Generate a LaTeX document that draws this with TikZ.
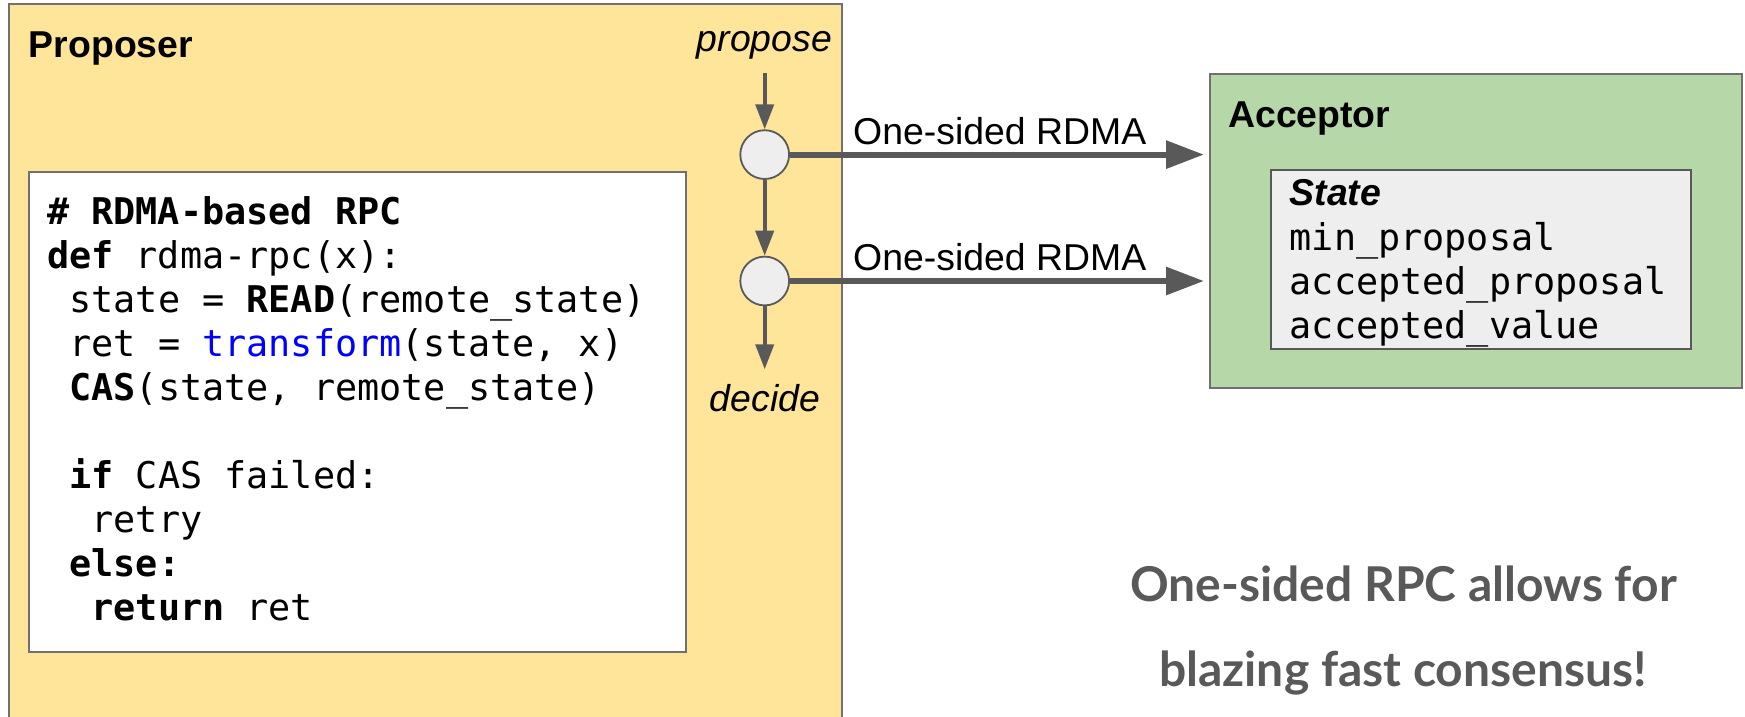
\documentclass[tikz,border=0pt]{standalone}
\usepackage{fontspec}
\setmainfont{Liberation Sans}
\newfontfamily\codefont{DejaVu Sans Mono}
\newfontfamily\latofont{Lato}
\usetikzlibrary{arrows.meta}

\definecolor{propfill}{HTML}{FFE599}
\definecolor{accfill}{HTML}{B6D7A8}
\definecolor{statefill}{HTML}{EEEEEE}
\definecolor{hubfill}{HTML}{EEEEEE}
\definecolor{edgegray}{HTML}{595959}
\definecolor{framegray}{HTML}{707070}
\definecolor{kwblue}{HTML}{0000FF}
\definecolor{notegray}{HTML}{595959}

\newcommand{\kw}[1]{\textbf{#1}}

\begin{document}
\begin{tikzpicture}[x=1pt,y=-1pt,
  panel/.style={draw=framegray, line width=2pt, anchor=north west, inner sep=0},
  heading/.style={inner sep=0, anchor=base west, font=\fontsize{37.4}{44}\selectfont\bfseries},
  tag/.style={inner sep=0, anchor=base, font=\fontsize{37.4}{44}\selectfont\itshape},
  plain/.style={inner sep=0, anchor=base west, font=\fontsize{37.4}{44}\selectfont},
  codeline/.style={inner sep=0, anchor=base west, font=\codefont\fontsize{36.8}{44}\selectfont},
  hub/.style={circle, draw=edgegray, fill=hubfill, line width=1.8pt, minimum size=48.8pt, inner sep=0},
  flow/.style={draw=edgegray, line width=4pt, -{Triangle[length=25pt,width=18pt]}},
  rdma/.style={draw=edgegray, line width=6pt, -{Triangle[length=38pt,width=27pt]}},
  note/.style={inner sep=0, anchor=base, text=notegray, font=\latofont\fontsize{48}{58}\selectfont\bfseries}
]
\useasboundingbox (0,0) rectangle (1745,716);
\clip (0,0) rectangle (1745,716);

% proposer side
\node[panel, fill=propfill, minimum width=832.4pt, minimum height=724pt] (proposer) at (8.3,3.3) {};
\node[heading] (proposerlbl) at (28.7,57.3) {Proposer};
\node[panel, fill=white, minimum width=657.7pt, minimum height=479.7pt] (codebox) at (27.6,171) {};

\node[codeline] (c1) at (47,224) {\kw{\# RDMA-based RPC}};
\node[codeline] (c2) at (47,268) {\kw{def} rdma-rpc(x):};
\node[codeline] (c3) at (69.2,312) {state = \kw{READ}(remote\_state)};
\node[codeline] (c4) at (69.2,356) {ret = \textcolor{kwblue}{transform}(state, x)};
\node[codeline] (c5) at (69.2,400) {\kw{CAS}(state, remote\_state)};
\node[codeline] (c6) at (69.2,488) {\kw{if} CAS failed:};
\node[codeline] (c7) at (91.4,532) {retry};
\node[codeline] (c8) at (69.2,576) {\kw{else:}};
\node[codeline] (c9) at (91.4,620) {\kw{return} ret};

% proposal flow
\node[tag] (propose) at (764.5,51.7) {propose};
\node[hub] (hub1) at (764.7,154.6) {};
\node[hub] (hub2) at (764.7,281) {};
\node[tag] (decide) at (765,411.7) {decide};
\coordinate (pin) at (764.7,73.3);
\coordinate (pout) at (764.7,369.3);
\draw[flow] (pin) -- (hub1.north);
\draw[flow] (hub1.south) -- (hub2.north);
\draw[flow] (hub2.south) -- (pout);

% acceptor side
\node[panel, fill=accfill, minimum width=532pt, minimum height=313.7pt] (acceptor) at (1209,73.3) {};
\node[heading] (acceptorlbl) at (1228,127.7) {Acceptor};
\node[panel, fill=statefill, draw=edgegray, minimum width=420.3pt, minimum height=178.7pt] (statebox) at (1270,169.3) {};
\node[plain, font=\fontsize{37.4}{44}\selectfont\bfseries\itshape] (statelbl) at (1289.5,205) {State};
\node[codeline] (s1) at (1289.5,250) {min\_proposal};
\node[codeline] (s2) at (1289.5,294) {accepted\_proposal};
\node[codeline] (s3) at (1289.5,338) {accepted\_value};

% one-sided accesses
\draw[rdma, shorten >=5pt] (hub1.east) -- (hub1.east -| acceptor.west);
\draw[rdma, shorten >=5pt] (hub2.east) -- (hub2.east -| acceptor.west);
\node[plain] (rdma1) at (853,144) {One-sided RDMA};
\node[plain] (rdma2) at (853,270) {One-sided RDMA};

% closing remark
\node[note] (note1) at (1403.5,601) {One-sided RPC allows for};
\node[note] (note2) at (1403,686.7) {blazing fast consensus!};
\end{tikzpicture}
\end{document}
